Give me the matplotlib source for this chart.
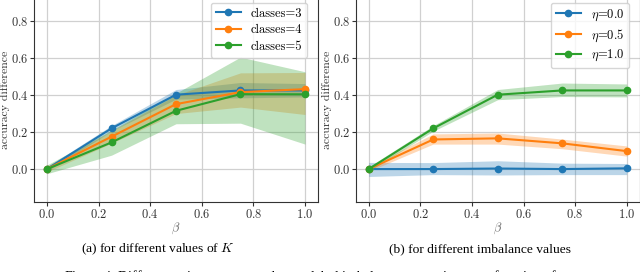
import matplotlib
matplotlib.use("Agg")
import matplotlib.pyplot as plt
import numpy as np

plt.rcParams['font.family'] = 'serif'
plt.rcParams['font.serif'] = ['cmr10']
plt.rcParams['mathtext.fontset'] = 'cm'
plt.rcParams['axes.formatter.use_mathtext'] = True
plt.rcParams['font.size'] = 9

beta = [0.0, 0.25, 0.5, 0.75, 1.0]

# (a) different number of classes
k_labels = ['classes=3', 'classes=4', 'classes=5']
k_mean = [
    [0.0, 0.220, 0.402, 0.425, 0.425],
    [0.0, 0.175, 0.351, 0.416, 0.432],
    [0.0, 0.144, 0.315, 0.405, 0.404],
]
k_low = [
    [-0.012, 0.205, 0.378, 0.385, 0.390],
    [-0.015, 0.140, 0.300, 0.335, 0.295],
    [-0.025, 0.075, 0.245, 0.248, 0.135],
]
k_high = [
    [0.012, 0.235, 0.430, 0.468, 0.462],
    [0.015, 0.205, 0.400, 0.520, 0.522],
    [0.022, 0.210, 0.410, 0.605, 0.526],
]

# (b) different imbalance values
eta_labels = [r'$\eta$=0.0', r'$\eta$=0.5', r'$\eta$=1.0']
eta_mean = [
    [0.0, 0.0, 0.003, 0.0, 0.004],
    [0.0, 0.160, 0.166, 0.139, 0.097],
    [0.0, 0.220, 0.402, 0.425, 0.425],
]
eta_low = [
    [-0.040, -0.030, -0.032, -0.030, -0.030],
    [-0.012, 0.135, 0.135, 0.110, 0.070],
    [-0.012, 0.205, 0.375, 0.392, 0.390],
]
eta_high = [
    [0.036, 0.035, 0.045, 0.032, 0.030],
    [0.012, 0.190, 0.195, 0.162, 0.125],
    [0.012, 0.235, 0.430, 0.465, 0.460],
]

colors = ['#1f77b4', '#ff7f0e', '#2ca02c']

fig = plt.figure(figsize=(6.4, 2.72), dpi=100)
ax1 = fig.add_axes([0.0533, 0.256, 0.4434, 0.7686])
ax2 = fig.add_axes([0.556, 0.256, 0.4434, 0.7686])


def draw(ax, labels, mean, low, high):
    for lab, m, lo, hi, c in zip(labels, mean, low, high, colors):
        ax.fill_between(beta, lo, hi, color=c, alpha=0.3, linewidth=0)
        ax.plot(beta, m, marker='o', color=c, label=lab, markersize=4.5, linewidth=1.5)
    ax.set_xlim(-0.05, 1.05)
    ax.set_ylim(-0.18, 0.95)
    ax.set_xticks([0.0, 0.2, 0.4, 0.6, 0.8, 1.0])
    ax.set_yticks([0.0, 0.2, 0.4, 0.6, 0.8])
    ax.grid(True, color='#d0d0d0', linewidth=0.9)
    ax.set_axisbelow(True)
    for s in ax.spines.values():
        s.set_color('#333333')
    ax.tick_params(colors='#333333', labelcolor='#333333', length=3, labelsize=9, pad=1)
    ax.set_xlabel(r'$\beta$', color='#666666', labelpad=0)
    ax.set_ylabel('accuracy difference', color='#333333', fontsize=8.5)
    ax.yaxis.set_label_coords(-0.084, 0.49)
    ax.legend(loc='upper right', bbox_to_anchor=(0.985, 0.985), fontsize=9,
              framealpha=0.8, handlelength=2.0, borderpad=0.4, labelspacing=0.35)


draw(ax1, k_labels, k_mean, k_low, k_high)
draw(ax2, eta_labels, eta_mean, eta_low, eta_high)

cap = dict(family='Liberation Serif', fontsize=9.7, ha='center', va='center')
fig.text(158 / 640, 1 - 249 / 272, '(a) for different values of $K$', **cap)
fig.text(480 / 640, 1 - 249 / 272, '(b) for different imbalance values', **cap)
fig.text(318 / 640, 1 - 268.5 / 272,
         r'Figure 4: Differences in accuracy under test label imbalance proportions as a function of $\beta$.',
         family='Liberation Serif', fontsize=10, ha='center', va='top')

fig.savefig('out.png', dpi=100)
